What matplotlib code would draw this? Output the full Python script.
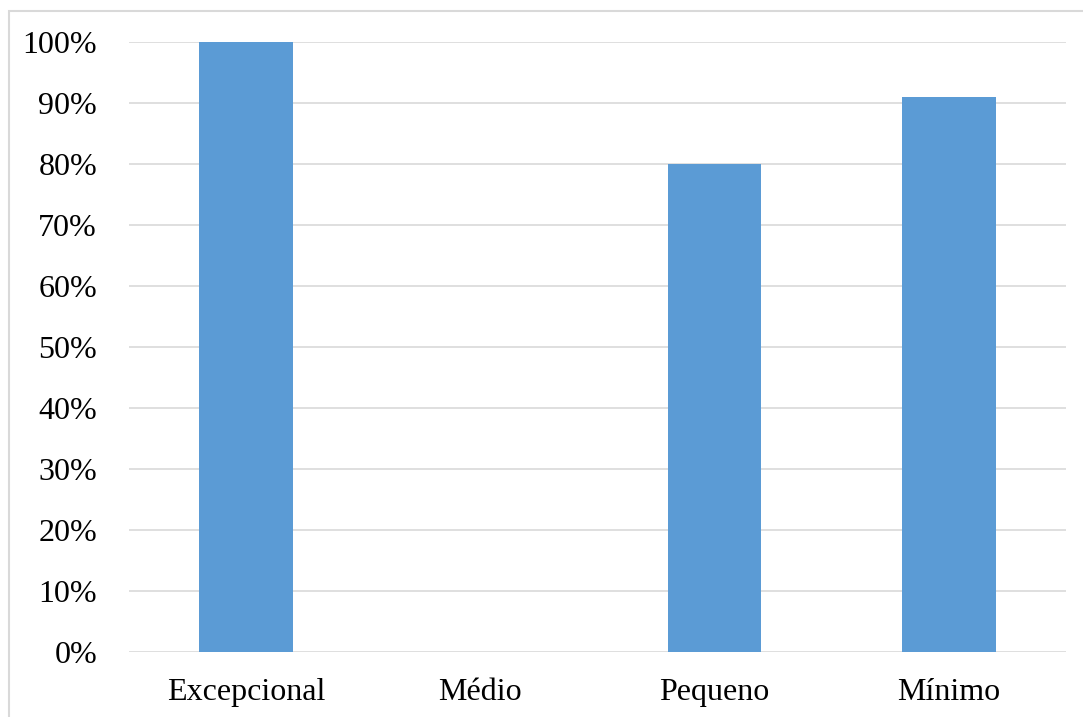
import matplotlib.pyplot as plt
from matplotlib.patches import Rectangle
from matplotlib.ticker import PercentFormatter

categorias = ["Excepcional", "Médio", "Pequeno", "Mínimo"]
valores = [1.00, 0.0, 0.80, 0.909]

plt.rcParams["font.family"] = ["Liberation Serif", "DejaVu Serif"]

fig = plt.figure(figsize=(10.83, 7.17), dpi=100)
ax = fig.add_axes([0.1191, 0.0911, 0.8652, 0.8503])

ax.bar(range(len(categorias)), valores, width=0.4, color="#5B9BD5", zorder=3)

ax.set_xlim(-0.5, len(categorias) - 0.5)
ax.set_ylim(0, 1.0)
ax.set_yticks([i / 10 for i in range(11)])
ax.yaxis.set_major_formatter(PercentFormatter(1.0, decimals=0))
ax.set_xticks(range(len(categorias)))
ax.set_xticklabels(categorias)

ax.grid(axis="y", color="#D9D9D9", linewidth=1.2, zorder=0)
ax.tick_params(axis="both", length=0, labelsize=23)
ax.tick_params(axis="y", pad=23)
ax.tick_params(axis="x", pad=19)
for s in ax.spines.values():
    s.set_visible(False)

# moldura cinza do gráfico
fig.patches.append(Rectangle((9 / 1083, -0.1), 1.2, 1.1 - 11 / 717,
                             transform=fig.transFigure, fill=False,
                             edgecolor="#D9D9D9", linewidth=1.5))

fig.savefig("out.png", dpi=100)
